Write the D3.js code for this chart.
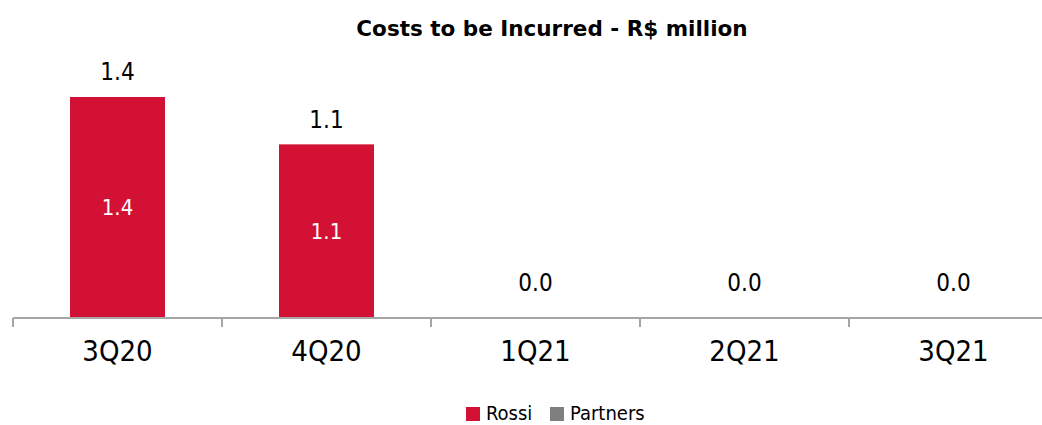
<!DOCTYPE html>
<html>
<head>
<meta charset="utf-8">
<script src="https://cdn.jsdelivr.net/npm/d3@7"></script>
<style>
  html, body { margin: 0; padding: 0; background: #ffffff; }
  svg { display: block; }
</style>
</head>
<body>
<svg id="chart" width="1042" height="425"></svg>
<script>
const categories = ["3Q20", "4Q20", "1Q21", "2Q21", "3Q21"];
const rossi = [1.4, 1.1, 0.0, 0.0, 0.0];
const partners = [0.0, 0.0, 0.0, 0.0, 0.0];
const seriesNames = ["Rossi", "Partners"];
const seriesColors = ["#D31134", "#7F7F7F"];
const titleText = "Costs to be Incurred - R$ million";

const svg = d3.select("#chart");
const W = 1042, H = 425;
const axisY = 318;
const bandStart = 13, bandW = 209;

const x = d3.scaleBand()
  .domain(categories)
  .range([bandStart, bandStart + bandW * categories.length])
  .paddingInner(0).paddingOuter(0);

const y = d3.scaleLinear().domain([0, 1.4]).range([axisY, 97]);

const narrow = "'Liberation Sans Narrow', 'Arial Narrow', 'DejaVu Sans Condensed', sans-serif";

// title
svg.append("text")
  .attr("x", 552).attr("y", 36)
  .attr("text-anchor", "middle")
  .attr("font-family", "'DejaVu Sans', Verdana, sans-serif")
  .attr("font-weight", "bold")
  .attr("font-size", 21.5)
  .attr("fill", "#000")
  .text(titleText);

const barW = 95;
const totals = categories.map((c, i) => rossi[i] + partners[i]);

// stacked bars
const stackData = categories.map((c, i) => ({cat: c, Rossi: rossi[i], Partners: partners[i]}));
const stack = d3.stack().keys(seriesNames)(stackData);

svg.append("g").selectAll("g")
  .data(stack).join("g")
  .attr("fill", (d, i) => seriesColors[i])
  .selectAll("rect")
  .data(d => d).join("rect")
  .attr("x", d => x(d.data.cat) + (bandW - barW) / 2)
  .attr("width", barW)
  .attr("y", d => y(d[1]))
  .attr("height", d => y(d[0]) - y(d[1]));

// inside labels (Rossi)
svg.append("g").selectAll("text")
  .data(categories.map((c, i) => ({c, v: rossi[i]})).filter(d => d.v > 0))
  .join("text")
  .attr("x", d => x(d.c) + bandW / 2)
  .attr("y", d => (y(0) + y(d.v)) / 2)
  .attr("dy", "0.35em")
  .attr("text-anchor", "middle")
  .attr("font-family", narrow)
  .attr("font-size", 22)
  .attr("fill", "#fff")
  .text(d => d3.format(".1f")(d.v));

// total labels
svg.append("g").selectAll("text")
  .data(categories.map((c, i) => ({c, v: totals[i]})))
  .join("text")
  .attr("x", d => x(d.c) + bandW / 2)
  .attr("y", d => y(d.v) - (d.v > 0 ? 25 : 35))
  .attr("dy", "0.35em")
  .attr("text-anchor", "middle")
  .attr("font-family", narrow)
  .attr("font-size", 24)
  .attr("fill", "#000")
  .text(d => d3.format(".1f")(d.v));

// axis
const axis = d3.axisBottom(x).tickSize(0).tickPadding(22);
const gx = svg.append("g").attr("transform", `translate(0,${axisY})`).call(axis);
gx.select(".domain").attr("stroke", "#A6A6A6").attr("stroke-width", 2)
  .attr("d", `M${bandStart},0H${W}`);
gx.selectAll(".tick text")
  .attr("font-family", narrow)
  .attr("font-size", 29)
  .attr("fill", "#000");
// boundary ticks between categories
gx.append("g").selectAll("line")
  .data(categories)
  .join("line")
  .attr("x1", d => x(d)).attr("x2", d => x(d))
  .attr("y1", 0).attr("y2", 9)
  .attr("stroke", "#A6A6A6").attr("stroke-width", 2);

// legend
const legend = svg.append("g");
const legendItems = [
  {name: seriesNames[0], color: seriesColors[0], x: 466},
  {name: seriesNames[1], color: seriesColors[1], x: 550}
];
legendItems.forEach(it => {
  legend.append("rect").attr("x", it.x).attr("y", 407).attr("width", 14).attr("height", 14).attr("fill", it.color);
  legend.append("text").attr("x", it.x + 20).attr("y", 413).attr("dy", "0.35em")
    .attr("font-family", narrow).attr("font-size", 20).attr("fill", "#000").text(it.name);
});
</script>
</body>
</html>
